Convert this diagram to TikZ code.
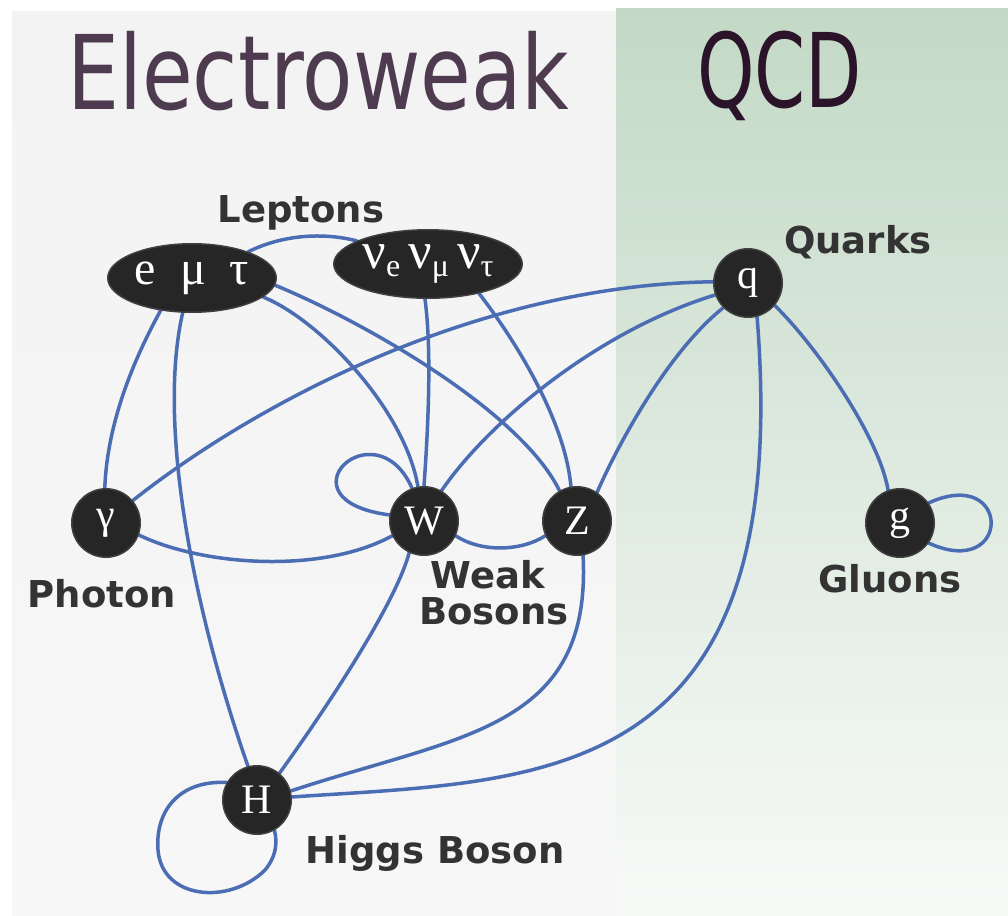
\documentclass[tikz,border=0pt]{standalone}
\usepackage{fontspec}
\setmainfont{Liberation Serif}
\newfontfamily\lblfont{DejaVu Sans}
\newfontfamily\titlefont{DejaVu Sans}
\newfontfamily\partfont{Liberation Serif}
\usetikzlibrary{shapes.geometric}
\definecolor{edgeblue}{HTML}{4A6DB3}
\definecolor{nodefill}{HTML}{262626}
\definecolor{noderim}{HTML}{404040}
\definecolor{lblgray}{HTML}{333333}
\definecolor{lpaneltop}{HTML}{F3F3F3}
\definecolor{lpanelbot}{HTML}{F7F7F7}
\definecolor{greentop}{HTML}{C3D9C6}
\definecolor{greenmid}{HTML}{D7E7D9}
\definecolor{greenbot}{HTML}{F8FAF8}
\definecolor{ewcol}{HTML}{4F3B4F}
\definecolor{qcdcol}{HTML}{2B1429}
\pgfdeclarelayer{panel}
\pgfdeclarelayer{edges}
\pgfsetlayers{panel,edges,main}
\newcommand{\nusub}[1]{{\fontsize{52}{52}\selectfont ν}\raisebox{-8pt}{\fontsize{32}{32}\selectfont #1}}
\begin{document}
\begin{tikzpicture}[x=1pt,y=-1pt,
  part/.style={circle, fill=nodefill, draw=noderim, line width=1.5pt, minimum size=68.5pt, inner sep=0pt, text=white, font=\partfont\fontsize{42}{42}\selectfont},
  lep/.style={ellipse, fill=nodefill, draw=noderim, line width=1.5pt, minimum height=68.5pt, inner sep=0pt, text=white, font=\partfont},
  lbl/.style={text=lblgray, font=\lblfont\bfseries\fontsize{37}{37}\selectfont, inner sep=0pt},
  edge/.style={draw=edgeblue, line width=3.5pt, line cap=round},
  ttl/.style={inner sep=0pt, anchor=base west, font=\titlefont\fontsize{103}{103}\selectfont}
]
\useasboundingbox (0,0) rectangle (1008,915);
\begin{pgfonlayer}{panel}
  \fill[white] (0,0) rectangle (1008,915);
  \shade[top color=lpaneltop, bottom color=lpanelbot] (12,12) rectangle (616,915);
  \shade[top color=greentop, middle color=greenmid, bottom color=greenbot] (616,9) rectangle (1008,915);
\end{pgfonlayer}

% titles
\node[ttl, text=ewcol] (ew) at (67,110) {\scalebox{0.80}[1]{Electroweak}};
\node[ttl, text=qcdcol] (qcd) at (697,108) {\scalebox{0.71}[1]{QCD}};

% particles
\node[lep, minimum width=168.5pt] (emt) at (192,278) {\fontsize{48}{48}\selectfont e\hspace{24pt}μ\hspace{24pt}τ};
\node[lep, minimum width=188.5pt] (nu) at (428,264) {\nusub{e}\hspace{8pt}\nusub{μ}\hspace{8pt}\nusub{τ}};
\node[part] (q) at (748,283) {q};
\node[part] (gam) at (106,523) {γ};
\node[part] (W) at (424,521) {W};
\node[part] (Z) at (577,521) {Z};
\node[part] (g) at (900,523) {g};
\node[part] (H) at (257,800) {H};

% labels
\node[lbl, anchor=base] (lLep) at (301,222) {Leptons};
\node[lbl, anchor=base] (lQ) at (858,253) {Quarks};
\node[lbl, anchor=base] (lPh) at (102,607) {Photon};
\node[lbl, anchor=base] (lWeak) at (488,588) {Weak};
\node[lbl, anchor=base] (lBos) at (494,624) {Bosons};
\node[lbl, anchor=base] (lG) at (890,592) {Gluons};
\node[lbl, anchor=base] (lH) at (435,863) {Higgs Boson};

% connectors
\begin{pgfonlayer}{edges}
\draw[edge] (emt.25) .. controls (282,235) and (322,232) .. (nu.162);
\draw[edge] (emt.226) .. controls (128,370) and (107,430) .. (gam.92);
\draw[edge] (emt.255) .. controls (158,420) and (190,600) .. (H.105);
\draw[edge] (emt.345) .. controls (320,320) and (405,410) .. (W.100);
\draw[edge] (emt.355) .. controls (360,320) and (520,410) .. (Z.120);
\draw[edge] (nu.265) .. controls (432,350) and (428,430) .. (W.90);
\draw[edge] (nu.330) .. controls (515,340) and (565,420) .. (Z.100);
\draw[edge] (gam.340) .. controls (200,565) and (320,575) .. (W.205);
\draw[edge] (gam.40) .. controls (260,400) and (480,285) .. (q.178);
\draw[edge] (W.335) .. controls (480,552) and (520,552) .. (Z.205);
\draw[edge] (W.110) .. controls (375,405) and (275,500) .. (W.170);
\draw[edge] (W.60) .. controls (490,420) and (600,330) .. (q.200);
\draw[edge] (W.245) .. controls (395,605) and (325,710) .. (H.50);
\draw[edge] (Z.55) .. controls (620,440) and (670,350) .. (q.225);
\draw[edge] (Z.280) .. controls (592,730) and (460,735) .. (H.15);
\draw[edge] (q.285) .. controls (795,790) and (540,780) .. (H.5);
\draw[edge] (q.320) .. controls (820,350) and (880,440) .. (g.110);
\draw[edge] (g.35) .. controls (1012,465) and (1012,581) .. (g.-35);
\draw[edge] (H.150) .. controls (180,780) and (155,810) .. (158,850) .. controls (162,900) and (230,905) .. (265,870) .. controls (275,858) and (278,845) .. (H.300);
\end{pgfonlayer}
\end{tikzpicture}
\end{document}
